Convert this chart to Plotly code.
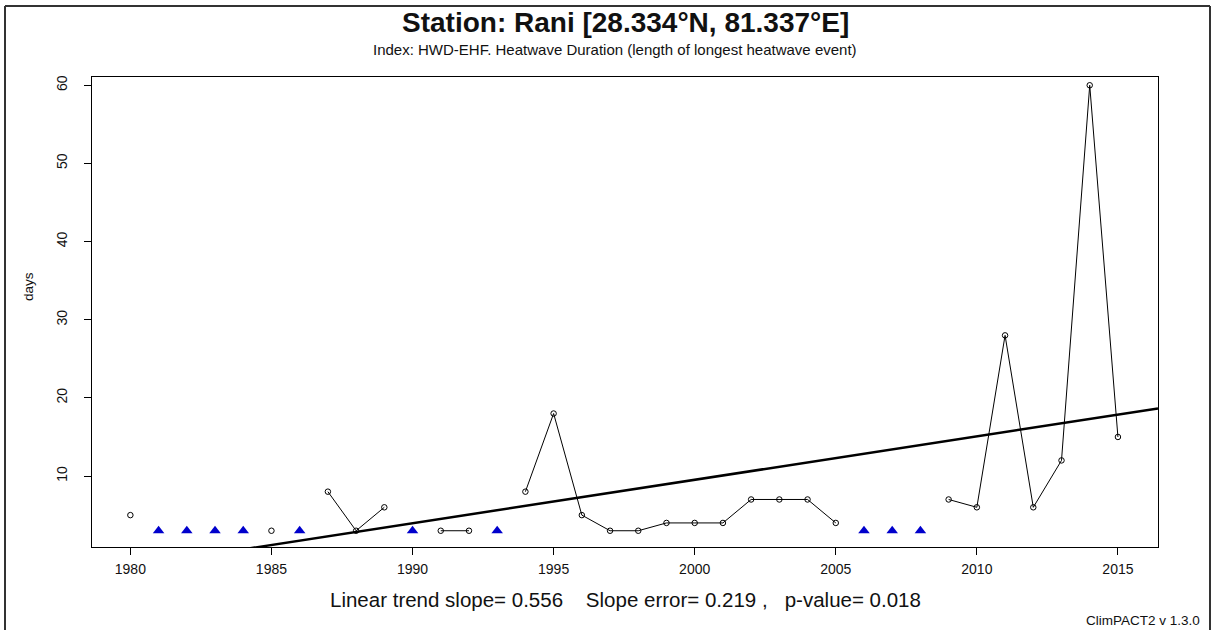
import plotly.graph_objects as go

# ---------------- data ----------------
years = list(range(1980, 2016))
values = [5, None, None, None, None, 3, None, 8, 3, 6,
          None, 3, 3, None, 8, 18, 5, 3, 3, 4,
          4, 4, 7, 7, 7, 4, None, None, None, 7,
          6, 28, 6, 12, 60, 15]
missing_years = [y for y, v in zip(years, values) if v is None]
missing_level = min(v for v in values if v is not None)

trend_slope = 0.556
trend_intercept_1980 = -1.6
x_ticks = [1980, 1985, 1990, 1995, 2000, 2005, 2010, 2015]
y_ticks = [10, 20, 30, 40, 50, 60]

title_text = "Station: Rani [28.334°N, 81.337°E]"
subtitle_text = "Index: HWD-EHF. Heatwave Duration (length of longest heatwave event)"
stats_text = "Linear trend slope= 0.556    Slope error= 0.219 ,   p-value= 0.018"
credit_text = "ClimPACT2 v 1.3.0"

# ---------------- layout geometry ----------------
W, H = 1213, 630
L, R, T, B = 92, 1158, 77, 547
x_range = [1978.64, 2016.42]
y_range = [0.92, 61.06]


def px(xp):
    return (xp - L) / (R - L)


def py(yp):
    return (B - yp) / (B - T)


FONT = "Arial, Liberation Sans, sans-serif"

fig = go.Figure()

# data line with open circles
fig.add_trace(go.Scatter(
    x=years, y=values, mode="lines+markers", connectgaps=False,
    line=dict(color="black", width=1),
    marker=dict(symbol="circle-open", size=5.5, color="black", line=dict(width=1)),
    showlegend=False, hoverinfo="x+y"))

# missing values as blue triangles
fig.add_trace(go.Scatter(
    x=missing_years, y=[missing_level] * len(missing_years), mode="markers",
    marker=dict(symbol="triangle-up", size=10, color="#0000CC"),
    showlegend=False))

# linear trend
trend_x = x_range
trend_y = [trend_intercept_1980 + trend_slope * (x - 1980) for x in trend_x]
fig.add_trace(go.Scatter(
    x=trend_x, y=trend_y, mode="lines",
    line=dict(color="black", width=2.5), showlegend=False))

axis_common = dict(showline=True, linecolor="black", linewidth=1, mirror=True,
                   ticks="outside", ticklen=7, tickcolor="black", tickwidth=1,
                   showgrid=False, zeroline=False,
                   tickfont=dict(family=FONT, size=14, color="#111111"))

fig.update_xaxes(range=x_range, tickvals=x_ticks, ticktext=[str(t) for t in x_ticks],
                 ticklabelstandoff=2, **axis_common)
fig.update_yaxes(range=y_range, tickvals=y_ticks, ticktext=[str(t) for t in y_ticks],
                 tickangle=-90, ticklabelstandoff=11, **axis_common)

annotations = [
    dict(text="<b>" + title_text + "</b>", x=px(625), y=py(22),
         font=dict(family=FONT, size=28, color="#111111")),
    dict(text=subtitle_text, x=px(615), y=py(50),
         font=dict(family=FONT, size=15, color="#111111")),
    dict(text="days", x=px(28), y=py(287), textangle=-90,
         font=dict(family=FONT, size=13.5, color="#111111")),
    dict(text=stats_text.replace(" ", "&nbsp;"), x=px(625), y=py(599),
         font=dict(family=FONT, size=20.5, color="#111111")),
    dict(text=credit_text, x=px(1202), y=py(620), xanchor="right",
         font=dict(family=FONT, size=13.5, color="#111111")),
]
for a in annotations:
    a.setdefault("xanchor", "center")
    a.update(xref="paper", yref="paper", yanchor="middle", showarrow=False)

frame = dict(type="line", xref="paper", yref="paper",
             line=dict(color="#333333", width=2), layer="below")
shapes = [
    dict(frame, x0=px(5), x1=px(1210), y0=py(6), y1=py(6)),    # top
    dict(frame, x0=px(5), x1=px(5), y0=py(6), y1=py(630)),     # left
    dict(frame, x0=px(1210), x1=px(1210), y0=py(6), y1=py(630)),  # right
]

fig.update_layout(
    width=W, height=H,
    margin=dict(l=L, r=W - R, t=T, b=H - B, pad=0),
    plot_bgcolor="white", paper_bgcolor="white",
    annotations=annotations,
    shapes=shapes,
)

fig.write_html(
    "out.html",
    config={"displayModeBar": False},
    post_script="document.body.style.margin='0';document.body.style.overflow='hidden';",
)
